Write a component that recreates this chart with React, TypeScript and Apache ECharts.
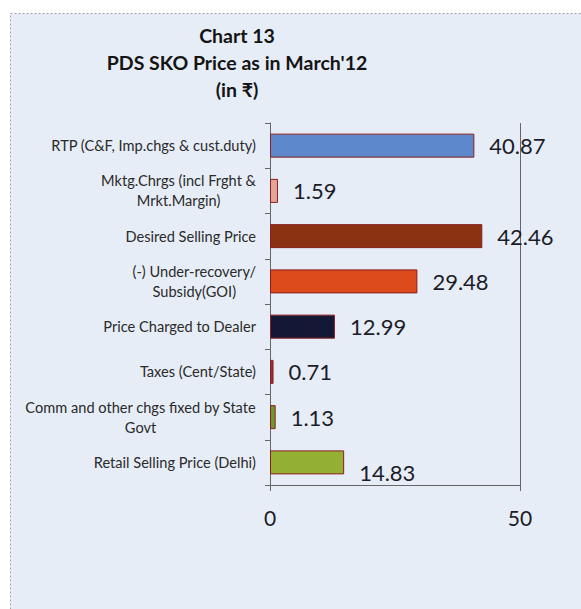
import React, { useEffect, useRef } from 'react';
import * as echarts from 'echarts';

const categories: string[] = [
  'RTP (C&F, Imp.chgs & cust.duty)',
  'Mktg.Chrgs (incl Frght &\nMrkt.Margin)',
  'Desired Selling Price',
  '(-) Under-recovery/\nSubsidy(GOI)',
  'Price Charged to Dealer',
  'Taxes (Cent/State)',
  'Comm and other chgs fixed by State\nGovt',
  'Retail Selling Price (Delhi)',
];
const values: number[] = [40.87, 1.59, 42.46, 29.48, 12.99, 0.71, 1.13, 14.83];
const barColors: string[] = [
  '#5d89cc',
  '#e3a595',
  '#8a3212',
  '#dd4a1c',
  '#131836',
  '#8c3442',
  '#6b9a30',
  '#93b034',
];
const xTicks: number[] = [0, 50];
const titleLines: string[] = ['Chart 13', "PDS SKO Price as in March'12", '(in ₹)'];

const FONT = "Lato, 'DejaVu Sans', sans-serif";

export default function App() {
  const ref = useRef<HTMLDivElement>(null);
  useEffect(() => {
    if (!ref.current) return;
    const chart = echarts.init(ref.current, undefined, { renderer: 'svg' });
    chart.setOption({
      animation: false,
      backgroundColor: '#ffffff',
      graphic: [
        {
          type: 'rect',
          z: -10,
          silent: true,
          shape: { x: 10.5, y: 13.5, width: 600, height: 620 },
          style: { fill: '#e7edf7', stroke: '#9ea4ac', lineWidth: 1, lineDash: [2, 2] },
        },
      ],
      title: {
        text: titleLines.join('\n'),
        left: 232,
        top: 17,
        textAlign: 'center',
        textStyle: {
          fontFamily: FONT,
          fontSize: 19.5,
          fontWeight: 'bold',
          lineHeight: 27,
          color: '#141414',
        },
      },
      grid: { left: 270, right: 61, top: 123, bottom: 124, containLabel: false },
      xAxis: {
        type: 'value',
        min: xTicks[0],
        max: xTicks[xTicks.length - 1],
        interval: xTicks[1] - xTicks[0],
        axisLine: { show: true, lineStyle: { color: '#666', width: 1 } },
        axisTick: { show: true, length: 6, lineStyle: { color: '#666' } },
        splitLine: { show: true, lineStyle: { color: '#666', width: 1 } },
        axisLabel: { fontFamily: FONT, fontSize: 21, color: '#1c1c28', margin: 22 },
      },
      yAxis: {
        type: 'category',
        inverse: true,
        data: categories,
        axisLine: { show: true, lineStyle: { color: '#666', width: 1 } },
        axisTick: { show: true, length: 5, lineStyle: { color: '#666' } },
        axisLabel: {
          margin: 14,
          formatter: (v: string) => v.split('\n').map((l) => `{c|${l}}`).join('\n'),
          rich: {
            c: {
              fontFamily: FONT,
              fontSize: 14.6,
              color: '#2a2a2a',
              align: 'center',
              lineHeight: 20,
            },
          },
        },
      },
      series: [
        {
          type: 'bar',
          barWidth: 24,
          data: values.map((v, i) => ({
            value: v,
            itemStyle: { color: barColors[i] },
            label: i === values.length - 1 ? { offset: [0, 10] } : undefined,
          })),
          itemStyle: { borderColor: '#8a1e1e', borderWidth: 1 },
          label: {
            show: true,
            position: 'right',
            distance: 15,
            fontFamily: FONT,
            fontSize: 22,
            color: '#1c1c28',
            formatter: (p: any) => p.value.toFixed(2),
          },
        },
      ],
    });
    return () => chart.dispose();
  }, []);
  return (
    <div
      ref={ref}
      style={{ position: 'fixed', left: 0, top: 0, width: 581, height: 609 }}
    />
  );
}
